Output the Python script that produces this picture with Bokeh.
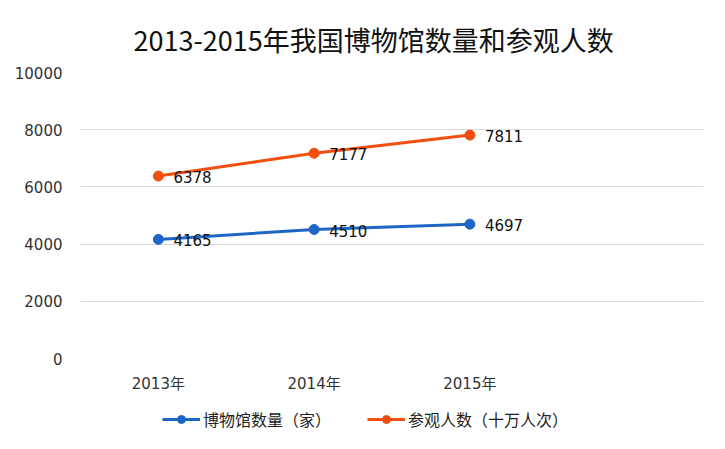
from bokeh.plotting import figure
from bokeh.layouts import column
from bokeh.models import FactorRange, Range1d, FixedTicker, Legend, LegendItem, ColumnDataSource
from bokeh.core.properties import value
from bokeh.embed import file_html
from bokeh.resources import INLINE

title_text = "2013-2015年我国博物馆数量和参观人数"
years = ["2013年", "2014年", "2015年"]
pad_factor = [" "]
museums = [4165, 4510, 4697]
visitors = [6378, 7177, 7811]
y_ticks = [0, 2000, 4000, 6000, 8000, 10000]
name_museums = "博物馆数量（家）"
name_visitors = "参观人数（十万人次）"

FONT = "Noto Sans CJK SC"
NUMFONT = "DejaVu Sans, Noto Sans CJK SC"
BLUE = "#1e66c6"
ORANGE = "#f24e0e"

p = figure(width=709, height=400, output_backend="svg", toolbar_location=None,
           x_range=FactorRange(factors=years + pad_factor, range_padding=0),
           y_range=Range1d(0, 10000),
           min_border_left=80, min_border_right=6, min_border_top=72, min_border_bottom=42)

p.title.text = title_text
p.title.align = "left"
p.title.offset = 53
p.title.text_font = FONT
p.title.text_font_size = "27px"
p.title.text_font_style = "normal"
p.title.text_color = "#111111"
p.title.standoff = 28

p.outline_line_color = None
p.background_fill_color = "white"
p.border_fill_color = "white"

p.xgrid.grid_line_color = None
p.ygrid.grid_line_color = "#d9d9d9"
p.ygrid.grid_line_width = 1
p.yaxis.ticker = FixedTicker(ticks=y_ticks)

for ax in (p.xaxis[0], p.yaxis[0]):
    ax.axis_line_color = None
    ax.major_tick_line_color = None
    ax.minor_tick_line_color = None
    ax.major_label_text_font = NUMFONT
    ax.major_label_text_font_size = "15px"
    ax.major_label_text_color = "#333333"
p.yaxis.major_label_standoff = 12
p.xaxis.major_label_standoff = 10

src_m = ColumnDataSource(dict(x=years, y=museums, t=[str(v) for v in museums]))
src_v = ColumnDataSource(dict(x=years, y=visitors, t=[str(v) for v in visitors]))

p.line("x", "y", source=src_m, line_color=BLUE, line_width=3)
p.scatter("x", "y", source=src_m, size=10, fill_color=BLUE, line_color=BLUE)
p.line("x", "y", source=src_v, line_color=ORANGE, line_width=3)
p.scatter("x", "y", source=src_v, size=10, fill_color=ORANGE, line_color=ORANGE)

for src in (src_m, src_v):
    p.text("x", "y", text="t", source=src, x_offset=15, y_offset=1,
           text_font=value(NUMFONT), text_font_size="15px", text_color="#111111",
           text_baseline="middle", text_align="left")

# legend strip below the chart (its series glyphs sit outside its visible range)
lg = figure(width=709, height=33, output_backend="svg", toolbar_location=None,
            x_range=FactorRange(factors=years + pad_factor, range_padding=0),
            y_range=Range1d(0, 1), x_axis_type=None, y_axis_type=None,
            min_border_left=0, min_border_right=0, min_border_top=0, min_border_bottom=0)
lg.outline_line_color = None
lg.grid.grid_line_color = None
lg.background_fill_color = "white"
lg.border_fill_color = "white"
lm = lg.line("x", "y", source=src_m, line_color=BLUE, line_width=3)
cm = lg.scatter("x", "y", source=src_m, size=10, fill_color=BLUE, line_color=BLUE)
lv = lg.line("x", "y", source=src_v, line_color=ORANGE, line_width=3)
cv = lg.scatter("x", "y", source=src_v, size=10, fill_color=ORANGE, line_color=ORANGE)

legend = Legend(items=[LegendItem(label=name_museums, renderers=[lm, cm]),
                       LegendItem(label=name_visitors, renderers=[lv, cv])],
                orientation="horizontal", location=(82, 2),
                label_text_font=FONT, label_text_font_size="16px", label_text_color="#222222",
                glyph_width=38, glyph_height=20, label_height=20, spacing=36, padding=0, margin=0,
                border_line_color=None, background_fill_alpha=0, label_standoff=3)
lg.add_layout(legend, "center")

layout = column(p, lg, spacing=0)
open("out.html", "w").write(file_html(layout, INLINE))
